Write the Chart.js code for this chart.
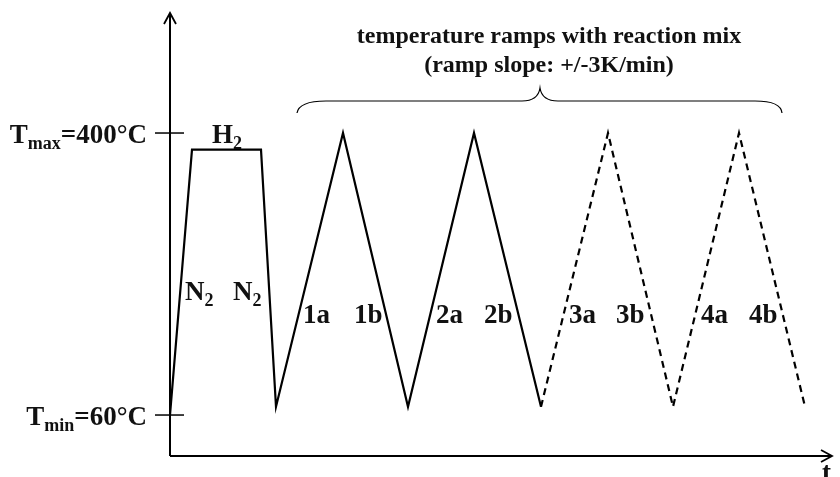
<!DOCTYPE html>
<html>
<head>
<meta charset="utf-8">
<script src="https://cdn.jsdelivr.net/npm/chart.js@4.4.0/dist/chart.umd.min.js"></script>
<style>
  html, body { margin: 0; padding: 0; background: #fff; }
  #wrap { width: 840px; height: 477px; }
</style>
</head>
<body>
<div id="wrap"><canvas id="tempProgram" width="840" height="477"></canvas></div>
<script>
// time in arbitrary units, temperature in °C
const times = [0, 22, 91, 106, 173, 238, 304, 371, 438, 503, 569, 635];
const temps = [60, 380, 380, 70, 400, 70, 400, 70, 400, 70, 400, 70];
const firstDashedPoint = 7;

const yTickValues = [60, 400];
const yTickNames = [["T", "min", "=60°C"], ["T", "max", "=400°C"]];

const phaseNames = ["N|2", "H|2", "N|2", "1a", "1b", "2a", "2b", "3a", "3b", "4a", "4b"];
const titleLines = ["temperature ramps with reaction mix", "(ramp slope: +/-3K/min)"];

const FONT = "'Liberation Serif', 'DejaVu Serif', serif";

/* ================================
   TEXT HELPERS
================================ */
function subText(ctx, parts, x, y, align) {
  // parts: [main, sub, rest]
  const [main, sub, rest = ""] = parts;
  ctx.font = `bold 27px ${FONT}`;
  const w1 = ctx.measureText(main).width;
  const w3 = ctx.measureText(rest).width;
  ctx.font = `bold 18px ${FONT}`;
  const w2 = ctx.measureText(sub).width;
  let sx = align === "right" ? x - (w1 + w2 + w3) : x;
  ctx.textAlign = "left";
  ctx.textBaseline = "alphabetic";
  ctx.font = `bold 27px ${FONT}`;
  ctx.fillText(main, sx, y);
  ctx.font = `bold 18px ${FONT}`;
  ctx.fillText(sub, sx + w1, y + 6);
  ctx.font = `bold 27px ${FONT}`;
  ctx.fillText(rest, sx + w1 + w2, y);
}

/* ================================
   DECORATIONS PLUGIN
================================ */
const decorations = {
  id: "decorations",
  afterDraw(chart) {
    const { ctx, chartArea, scales } = chart;
    const x0 = chartArea.left, y0 = chartArea.bottom;
    ctx.save();
    ctx.strokeStyle = "#000";
    ctx.fillStyle = "#111";

    // axes
    ctx.lineWidth = 2;
    ctx.beginPath();
    ctx.moveTo(x0, y0);
    ctx.lineTo(x0, chartArea.top);
    ctx.moveTo(x0, y0);
    ctx.lineTo(chartArea.right, y0);
    ctx.stroke();

    // arrow heads
    ctx.lineWidth = 1.8;
    ctx.beginPath();
    ctx.moveTo(x0 - 6, chartArea.top + 11);
    ctx.lineTo(x0, chartArea.top);
    ctx.lineTo(x0 + 6, chartArea.top + 11);
    ctx.moveTo(chartArea.right - 11, y0 - 6);
    ctx.lineTo(chartArea.right, y0);
    ctx.lineTo(chartArea.right - 11, y0 + 6);
    ctx.stroke();

    // y ticks + labels
    ctx.lineWidth = 1.5;
    yTickValues.forEach((v, i) => {
      const py = scales.y.getPixelForValue(v);
      ctx.beginPath();
      ctx.moveTo(x0 - 15, py);
      ctx.lineTo(x0 + 14, py);
      ctx.stroke();
      subText(ctx, yTickNames[i], x0 - 23, py + 10, "right");
    });

    // x label
    ctx.font = `bold 27px ${FONT}`;
    ctx.textAlign = "left";
    ctx.fillText("t", 822, 481);

    // phase labels
    const spots = [[185, 300], [212, 143], [233, 300], [303, 323], [354, 323],
                   [436, 323], [484, 323], [569, 323], [616, 323], [701, 323], [749, 323]];
    phaseNames.forEach((name, i) => {
      const [px, py] = spots[i];
      const parts = name.split("|");
      if (parts.length > 1) {
        subText(ctx, [parts[0], parts[1]], px, py, "left");
      } else {
        ctx.font = `bold 27px ${FONT}`;
        ctx.textAlign = "left";
        ctx.fillText(name, px, py);
      }
    });

    // title
    ctx.font = `bold 24px ${FONT}`;
    ctx.textAlign = "center";
    ctx.fillText(titleLines[0], 549, 43);
    ctx.fillText(titleLines[1], 549, 72);

    // curly brace
    ctx.lineWidth = 1.2;
    ctx.beginPath();
    ctx.moveTo(297, 113);
    ctx.quadraticCurveTo(299, 101, 326, 101);
    ctx.lineTo(522, 101);
    ctx.quadraticCurveTo(538, 101, 540, 88);
    ctx.quadraticCurveTo(542, 101, 558, 101);
    ctx.lineTo(755, 101);
    ctx.quadraticCurveTo(781, 101, 782, 113);
    ctx.stroke();

    ctx.restore();
  }
};

/* ================================
   CHART
================================ */
new Chart(document.getElementById("tempProgram"), {
  type: "line",
  data: {
    datasets: [{
      data: times.map((t, i) => ({ x: t, y: temps[i] })),
      borderColor: "#000",
      borderWidth: 2.2,
      pointRadius: 0,
      tension: 0,
      segment: {
        borderDash: c => c.p0DataIndex >= firstDashedPoint ? [7, 5] : undefined
      }
    }]
  },
  options: {
    responsive: false,
    animation: false,
    layout: { padding: { left: 170, right: 8, top: 13, bottom: 21 } },
    scales: {
      x: { type: "linear", min: 0, max: 662, display: false },
      y: { min: 10.6, max: 544.7, display: false }
    },
    plugins: {
      legend: { display: false },
      tooltip: { enabled: false }
    }
  },
  plugins: [decorations]
});
</script>
</body>
</html>
